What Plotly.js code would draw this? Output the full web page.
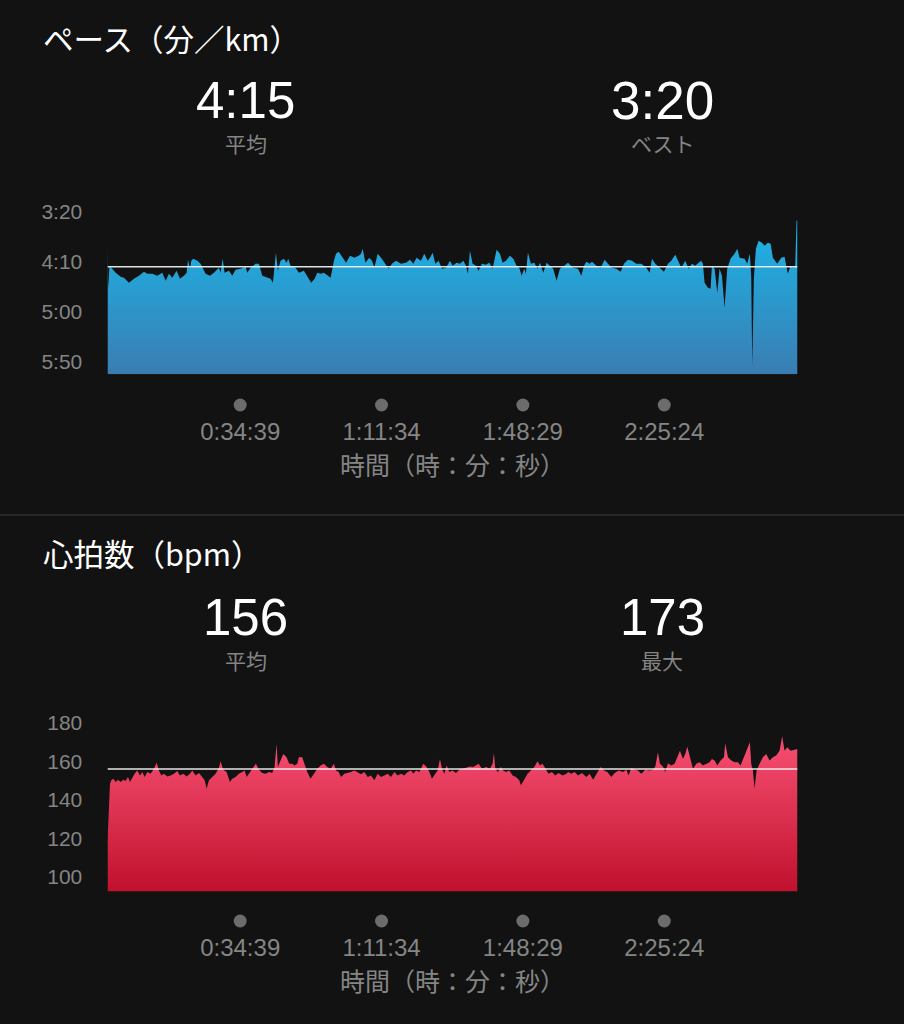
<!DOCTYPE html>
<html>
<head>
<meta charset="utf-8">
<script src="https://cdn.plot.ly/plotly-3.0.1.min.js"></script>
<style>
  html, body { margin: 0; padding: 0; background: #121212; }
  #chart { width: 904px; height: 1024px; }
</style>
</head>
<body>
<div id="chart"></div>
<script>
// ---------------- data ----------------
// elapsed time (seconds) and pace (seconds per km)
const paceTime = [0,10,30,60,128,206,258,337,415,493,572,624,702,780,859,911,963,1015,1083,1135,
  1198,1240,1261,1292,1313,1344,1407,1459,1537,1605,1668,1746,1772,1804,1835,1903,1955,2007,2085,2164,
  2190,2242,2320,2373,2425,2503,2555,2592,2618,2639,2670,2712,2764,2806,2832,2868,2947,2999,3077,3130,
  3192,3245,3287,3339,3391,3454,3496,3548,
  3581,3623,3685,3738,3800,3868,3936,3973,3999,4040,4103,4145,4181,4234,4286,4354,4406,4458,4521,4599,
  4677,4740,4792,4844,4912,4964,5017,5053,5095,5137,5189,5241,5304,5366,5408,5471,5523,5575,5617,5648,
  5679,5721,5773,5815,5867,5930,5982,6034,6097,6149,6191,6243,6306,6358,6410,6452,6489,6530,6556,6588,
  6635,6687,6739,6776,6828,6880,6932,6984,7037,7089,7157,
  7216,7294,7373,7425,7467,7503,7555,7592,7660,7728,7790,7842,7905,7973,8041,8093,8156,8218,8286,8364,
  8443,8495,8531,8584,8652,8719,8782,8834,8897,8939,8991,9053,9106,9158,9210,9262,9304,9330,9356,9408,
  9450,9471,9513,9555,9591,9628,9669,9711,9763,9826,9868,9904,9983,10024,10066,10087,10103,10129,10160,10202,
  10254,10296,10348,10390,10426,10494,10557,10609,10661,10703,10740,10776,10797,10812];
const paceSec = [234,277,255,256,261,265,266,271,267,264,260,262,262,264,261,269,262,266,259,267,
  264,261,248,257,249,247,249,252,262,264,261,256,261,247,261,259,264,258,257,255,
  261,256,252,252,264,266,267,271,257,241,259,249,247,251,247,254,256,261,259,264,
  271,267,261,262,261,264,266,249,
  242,240,246,251,244,246,244,242,237,251,246,249,256,242,246,252,257,252,249,252,
  251,248,252,246,249,242,249,246,241,252,249,257,256,249,254,251,252,249,254,262,
  239,252,254,259,252,253,251,257,238,242,251,249,244,247,254,256,264,257,262,241,
  252,251,257,251,261,251,254,257,269,257,254,
  251,256,257,264,254,250,252,250,254,256,248,252,256,257,260,252,248,249,252,252,
  256,261,247,252,256,260,252,249,243,249,256,249,257,252,254,251,249,252,271,276,
  277,254,257,281,257,264,296,257,247,242,237,246,247,252,242,266,354,266,237,229,
  231,234,231,232,246,252,246,245,262,254,256,254,209,209];

// elapsed time (seconds) and heart rate (bpm)
const hrTime = [0,39,60,91,128,164,206,248,284,321,352,389,425,467,509,545,582,624,676,728,
  770,806,843,885,937,989,1041,1094,1135,1188,1240,1292,1329,1381,1433,1485,1522,1553,1590,1642,
  1694,1746,1772,1814,1866,1918,1955,2007,2059,2112,2148,2180,2232,2284,2325,2373,2425,2477,2529,2581,
  2618,2649,2670,2712,2754,2806,2848,2895,2931,2973,2999,3051,3088,3130,3182,3234,3287,3339,3391,3443,
  3496,3548,
  3581,3623,3659,3712,3764,3816,3868,3920,3973,4025,4077,4129,4181,4234,4286,4338,4390,4442,4495,4547,
  4599,4651,4703,4756,4792,4834,4886,4949,5001,5043,5084,5137,5173,5210,5241,5278,5314,5356,5408,5460,
  5512,5565,5627,5679,5732,5773,5815,5867,5930,5993,6034,6055,6076,6118,6160,6201,6243,6295,6348,6400,
  6452,6478,6530,6582,6635,6687,6739,6776,6817,6859,6911,6964,7016,7068,7131,7193,
  7216,7268,7320,7373,7435,7503,7555,7608,7660,7728,7780,7832,7895,7947,8009,8077,8130,8166,8208,8260,
  8312,8364,8427,8495,8547,8584,8625,8657,8704,8740,8782,8834,8886,8928,8970,9017,9053,9085,9127,9174,
  9226,9278,9330,9382,9435,9471,9513,9555,9607,9659,9680,9722,9774,9826,9878,9920,9972,10024,10066,10087,
  10113,10139,10171,10218,10270,10322,10374,10426,10478,10531,10572,10609,10651,10703,10755,10812];
const hrBpm = [118,148.3,150.1,150.9,149.2,150.4,149.2,150.4,149.7,151.8,149.2,151.8,153.5,155.2,152.6,154.4,151.8,154.4,153.5,156.1,
  159.2,155.2,152.6,153.5,152.1,152.6,153.5,154.9,152.6,153.5,152.1,153.5,155.2,152.6,153.9,151.8,150.1,145.8,150.1,151.8,
  153.5,156.6,159.9,155.6,154.4,149.2,150.9,151.8,153.5,154.4,155.2,151.8,154.4,157,158.7,155.6,153.9,153.5,154.4,153.9,
  157,169,157,160.4,163.8,162.1,158.7,158.7,157.8,158.7,162.1,162.1,158.7,154.4,150.9,153.5,156.1,157.8,158.7,157,
  156.1,158.7,
  155.2,154.4,151.8,153.5,153.9,154.4,155.2,154.4,153.2,154.4,151.8,152.6,150.1,153.5,151.8,152.6,153.5,151.8,154.4,152.6,
  153.5,152.6,154.4,155.2,153.5,155.2,154.4,158.7,157,154.4,150.9,153.5,155.2,161.2,156.1,153.5,157.8,154.4,155.2,153.9,
  155.6,156.1,156.6,157.3,157,157.8,158.7,156.1,157,156.1,158.7,164.2,156.1,154.4,157,155.2,154.4,155.2,152.6,151.8,
  150.1,147.5,150.9,153.5,155.2,157,160,157.8,158.7,156.1,153.5,154.4,152.6,153.9,152.6,153.5,
  154.4,153.5,154.4,152.6,153.9,151.8,153.5,150.4,153.5,157,155.2,154.4,151.8,153.9,155.2,154.4,155.6,152.6,156.6,155.6,
  155.2,153.5,155.6,155.2,155.6,157.3,164.7,158.7,157.3,154.4,159,157.8,158.7,162.1,165.5,161.2,163.8,167.6,162.1,156.1,
  158.7,159.5,157.8,158.7,159.5,161.2,160.4,157.8,160.4,162.1,169.3,162.1,160.4,159.5,159.5,157.8,162.1,165.5,169.9,158.7,
  155.2,145.8,155.2,158.7,162.1,163.8,160.4,162.1,163,165.5,173,165.5,167.3,165.5,165.9,166.4];

// summary values
const paceAvg = 255;   // 4:15 /km
const paceBest = 200;  // 3:20 /km
const hrAvg = 156;
const hrMax = 173;

// tick labels
const timeTickVals = [2079, 4294, 6509, 8724];
const timeTickText = ['0:34:39', '1:11:34', '1:48:29', '2:25:24'];
const paceTickVals = [200, 250, 300, 350];
const paceTickText = ['3:20', '4:10', '5:00', '5:50'];
const hrTickVals = [100, 120, 140, 160, 180];
const hrTickText = ['100', '120', '140', '160', '180'];

// text
const paceTitle = 'ペース（分／km）';
const hrTitle = '心拍数（bpm）';
const timeAxisTitle = '時間（時：分：秒）';
const avgLabel = '平均';
const bestLabel = 'ベスト';
const maxLabel = '最大';

// ---------------- layout helpers ----------------
const W = 904, H = 1024;
const px = x => x / W;
const py = y => 1 - y / H;
const T_END = 10812;
const PACE_RANGE = [362.6, 188.3];
const HR_RANGE = [92.3, 185.6];
const fmtPace = s => Math.floor(s / 60) + ':' + String(s % 60).padStart(2, '0');

const NUM_FONT = 'Liberation Sans, Arial, sans-serif';
const JP_FONT = 'Noto Sans CJK JP, sans-serif';
const GRAY = '#858585';
const X_DOM = [px(107.5), px(797.5)];

const traces = [
  // pace baseline + gradient area
  { x: [0, T_END], y: [PACE_RANGE[0], PACE_RANGE[0]], xaxis: 'x', yaxis: 'y', mode: 'lines',
    line: { width: 0 }, hoverinfo: 'skip', showlegend: false },
  { x: paceTime, y: paceSec, xaxis: 'x', yaxis: 'y', mode: 'lines', line: { width: 0 },
    fill: 'tonexty',
    fillgradient: { type: 'vertical', start: PACE_RANGE[0], stop: 215,
      colorscale: [[0, '#3a7db2'], [1, '#1db3e6']] },
    showlegend: false },
  { x: [0, T_END], y: [paceAvg, paceAvg], xaxis: 'x', yaxis: 'y', mode: 'lines',
    line: { color: 'rgba(235,242,245,0.95)', width: 1.6 }, showlegend: false },
  { x: timeTickVals, y: timeTickVals.map(() => 0), xaxis: 'x2', yaxis: 'y2', mode: 'markers',
    marker: { size: 13, color: '#6c6c6c' }, cliponaxis: false, showlegend: false },

  // heart rate baseline + gradient area
  { x: [0, T_END], y: [HR_RANGE[0], HR_RANGE[0]], xaxis: 'x3', yaxis: 'y3', mode: 'lines',
    line: { width: 0 }, hoverinfo: 'skip', showlegend: false },
  { x: hrTime, y: hrBpm, xaxis: 'x3', yaxis: 'y3', mode: 'lines', line: { width: 0 },
    fill: 'tonexty',
    fillgradient: { type: 'vertical', start: HR_RANGE[0], stop: 165,
      colorscale: [[0, '#c0112d'], [1, '#f24a6c']] },
    showlegend: false },
  { x: [0, T_END], y: [hrAvg, hrAvg], xaxis: 'x3', yaxis: 'y3', mode: 'lines',
    line: { color: 'rgba(240,240,240,0.95)', width: 1.6 }, showlegend: false },
  { x: timeTickVals, y: timeTickVals.map(() => 0), xaxis: 'x4', yaxis: 'y4', mode: 'markers',
    marker: { size: 13, color: '#6c6c6c' }, cliponaxis: false, showlegend: false }
];

const hiddenX = (anchor) => ({ domain: X_DOM, range: [0, T_END], anchor, showgrid: false,
  zeroline: false, showline: false, showticklabels: false, ticks: '', fixedrange: true });
const timeX = (anchor) => ({ domain: X_DOM, range: [0, T_END], anchor, showgrid: false,
  zeroline: false, showline: false, tickvals: timeTickVals, ticktext: timeTickText,
  ticks: '', ticklen: 0,
  tickfont: { family: NUM_FONT, size: 24, color: GRAY },
  title: { text: timeAxisTitle, font: { family: JP_FONT, size: 25, color: GRAY }, standoff: 13 },
  fixedrange: true });
const valY = (domain, range, vals, text) => ({ domain, range, showgrid: false, zeroline: false,
  showline: false, tickvals: vals, ticktext: text, ticks: 'outside', ticklen: 20,
  tickcolor: 'rgba(0,0,0,0)', tickfont: { family: NUM_FONT, size: 21, color: GRAY }, fixedrange: true });
const stripY = (domain) => ({ domain, range: [-1, 1], visible: false, fixedrange: true });

const ann = (text, x, y, size, color, family, xanchor) => ({ text, x: px(x), y: py(y),
  xref: 'paper', yref: 'paper', xanchor: xanchor || 'center', yanchor: 'middle', showarrow: false,
  font: { family, size, color } });

const layout = {
  width: W, height: H,
  margin: { l: 0, r: 0, t: 0, b: 0 },
  paper_bgcolor: '#121212', plot_bgcolor: 'rgba(0,0,0,0)',
  showlegend: false,
  xaxis: hiddenX('y'),
  yaxis: valY([py(374.3), py(200)], PACE_RANGE, paceTickVals, paceTickText),
  xaxis2: timeX('y2'),
  yaxis2: stripY([py(415), py(395)]),
  xaxis3: hiddenX('y3'),
  yaxis3: valY([py(891.5), py(712)], HR_RANGE, hrTickVals, hrTickText),
  xaxis4: timeX('y4'),
  yaxis4: stripY([py(931), py(911)]),
  shapes: [
    { type: 'line', xref: 'paper', yref: 'paper', x0: 0, x1: 1, y0: py(515), y1: py(515),
      line: { color: '#3c3c3c', width: 1.2 } }
  ],
  annotations: [
    ann(paceTitle, 41, 38, 30.5, '#ffffff', JP_FONT, 'left'),
    ann(fmtPace(paceAvg), 246, 100, 51, '#ffffff', NUM_FONT),
    ann(avgLabel, 246, 143, 21, GRAY, JP_FONT),
    ann(fmtPace(paceBest), 662, 100, 53, '#ffffff', NUM_FONT),
    ann(bestLabel, 662, 143, 21, GRAY, JP_FONT),
    ann(hrTitle, 41, 553, 30.5, '#ffffff', JP_FONT, 'left'),
    ann(String(hrAvg), 246, 617, 51, '#ffffff', NUM_FONT),
    ann(avgLabel, 246, 660, 21, GRAY, JP_FONT),
    ann(String(hrMax), 662, 617, 51, '#ffffff', NUM_FONT),
    ann(maxLabel, 662, 660, 21, GRAY, JP_FONT)
  ]
};

Plotly.newPlot('chart', traces, layout, { staticPlot: true, displayModeBar: false });
</script>
</body>
</html>
